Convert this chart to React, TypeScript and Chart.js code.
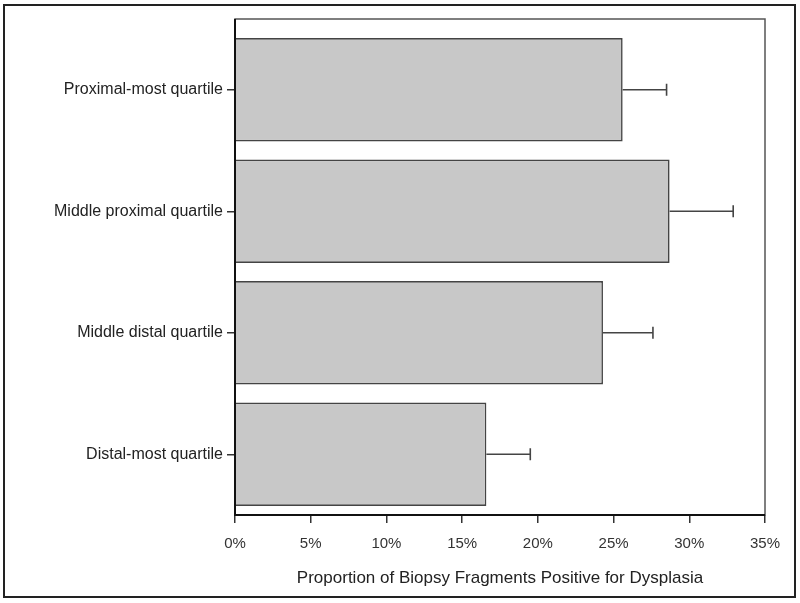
import React, { useEffect, useRef } from "react";
import { Chart, registerables } from "chart.js";

Chart.register(...registerables);

const categories = [
  "Proximal-most quartile",
  "Middle proximal quartile",
  "Middle distal quartile",
  "Distal-most quartile",
];
const proportions = [25.6, 28.7, 24.3, 16.6];
const upperErrors = [28.5, 32.9, 27.6, 19.5];
const xTicks = [0, 5, 10, 15, 20, 25, 30, 35];
const xTitle = "Proportion of Biopsy Fragments Positive for Dysplasia";

const FONT = "'Liberation Sans', Arial, sans-serif";

const framePlugin = {
  id: "frames",
  beforeDraw(chart: any) {
    const ctx = chart.ctx;
    ctx.save();
    ctx.fillStyle = "#ffffff";
    ctx.fillRect(0, 0, chart.width, chart.height);
    ctx.restore();
  },
  afterDatasetsDraw(chart: any) {
    const ctx = chart.ctx;
    const xs = chart.scales.x;
    const meta = chart.getDatasetMeta(0);
    ctx.save();
    ctx.strokeStyle = "#444444";
    ctx.lineWidth = 1.6;
    meta.data.forEach((bar: any, i: number) => {
      const x0 = xs.getPixelForValue(proportions[i]);
      const x1 = xs.getPixelForValue(upperErrors[i]);
      const y = bar.y;
      ctx.beginPath();
      ctx.moveTo(x0, y);
      ctx.lineTo(x1, y);
      ctx.moveTo(x1, y - 6);
      ctx.lineTo(x1, y + 6);
      ctx.stroke();
    });
    // plot frame
    const a = chart.chartArea;
    ctx.strokeStyle = "#555555";
    ctx.lineWidth = 1.5;
    ctx.strokeRect(a.left, a.top - 10, a.right - a.left, a.bottom - (a.top - 10));
    ctx.strokeStyle = "#111111";
    ctx.lineWidth = 2;
    ctx.beginPath();
    ctx.moveTo(a.left, a.top - 10);
    ctx.lineTo(a.left, a.bottom);
    ctx.lineTo(a.right, a.bottom);
    ctx.stroke();
    ctx.restore();
  },
  afterDraw(chart: any) {
    const ctx = chart.ctx;
    ctx.save();
    ctx.strokeStyle = "#222222";
    ctx.lineWidth = 2;
    ctx.strokeRect(4, 5, 791, 592);
    ctx.restore();
  },
};

export default function App() {
  const ref = useRef<HTMLCanvasElement>(null);
  useEffect(() => {
    const chart = new Chart(ref.current as HTMLCanvasElement, {
      type: "bar",
      data: {
        labels: categories,
        datasets: [
          {
            data: proportions,
            backgroundColor: "#c8c8c8",
            borderColor: "#444444",
            borderWidth: 1.6,
            borderSkipped: "start",
            barPercentage: 0.85,
            categoryPercentage: 1,
          },
        ],
      },
      plugins: [framePlugin],
      options: {
        indexAxis: "y",
        animation: false,
        responsive: false,
        devicePixelRatio: 1,
        layout: { padding: { top: 29, right: 35, left: 0, bottom: 0 } },
        plugins: {
          legend: { display: false },
          tooltip: { enabled: false },
        },
        scales: {
          x: {
            type: "linear",
            min: 0,
            max: 35,
            afterBuildTicks(scale: any) {
              scale.ticks = xTicks.map((v) => ({ value: v }));
            },
            afterFit(scale: any) {
              scale.height = 88;
            },
            border: { display: false },
            grid: {
              drawOnChartArea: false,
              drawTicks: true,
              tickLength: 8,
              tickColor: "#333333",
              lineWidth: 1.5,
            },
            ticks: {
              padding: 12,
              color: "#333333",
              font: { family: FONT, size: 15 },
              callback: (v: any) => v + "%",
            },
            title: {
              display: true,
              text: xTitle,
              color: "#222222",
              font: { family: FONT, size: 17 },
              padding: { top: 4, bottom: 14 },
            },
          },
          y: {
            type: "category",
            offset: true,
            afterFit(scale: any) {
              scale.width = 235;
            },
            border: { display: false },
            grid: {
              drawOnChartArea: false,
              drawTicks: true,
              tickLength: 8,
              tickColor: "#333333",
              lineWidth: 1.5,
              offset: false,
            },
            ticks: {
              padding: 4,
              color: "#222222",
              font: { family: FONT, size: 16 },
            },
          },
        },
      },
    } as any);
    return () => chart.destroy();
  }, []);
  return (
    <div style={{ position: "fixed", left: 0, top: 0, width: 800, height: 603, background: "#fff" }}>
      <canvas ref={ref} width={800} height={603} style={{ display: "block" }} />
    </div>
  );
}
